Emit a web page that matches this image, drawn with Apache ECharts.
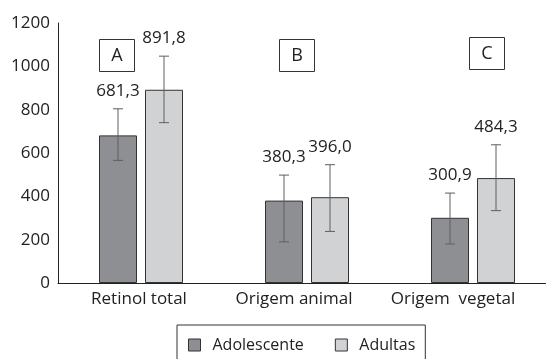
<!DOCTYPE html>
<html>
<head>
<meta charset="utf-8">
<script src="https://cdn.jsdelivr.net/npm/echarts@6/dist/echarts.min.js"></script>
<style>
  html, body { margin: 0; padding: 0; background: #fff; }
  #chart { width: 546px; height: 359px; }
</style>
</head>
<body>
<div id="chart"></div>
<script>
// dados
const categories = ['Retinol total', 'Origem animal', 'Origem  vegetal'];
const adolescente = [681.3, 380.3, 300.9];
const adultas = [891.8, 396.0, 484.3];
// barras de erro [inferior, superior]
const erroAdolescente = [[566, 804], [190, 498], [180, 415]];
const erroAdultas = [[740, 1047], [238, 546], [334, 638]];
const yTicks = [0, 200, 400, 600, 800, 1000, 1200];
const letras = ['A', 'B', 'C'];

const FONT = '"Open Sans", "Noto Sans", sans-serif';
const TXT = '#222';
const BAR_W = 38;
const BAR_GAP = 8;
const offset = (BAR_W + BAR_GAP) / 2;

const chart = echarts.init(document.getElementById('chart'), null, { renderer: 'canvas' });

// deslocamento dos rótulos das categorias (como no original)
const labelShift = [4, 26, 40];

function errorSeries(name, erros, valores, dir) {
  return {
    name: name + '-erro',
    type: 'custom',
    z: 5,
    silent: true,
    data: erros.map((e, i) => [i, e[0], e[1], valores[i]]),
    renderItem: (params, api) => {
      const i = api.value(0);
      const lo = api.coord([i, api.value(1)]);
      const hi = api.coord([i, api.value(2)]);
      const x = lo[0] + dir * offset;
      const cap = 5;
      const txt = api.value(3).toFixed(1).replace('.', ',');
      return {
        type: 'group',
        children: [
          { type: 'line', shape: { x1: x, y1: lo[1], x2: x, y2: hi[1] }, style: { stroke: '#5e5e5e', lineWidth: 1 } },
          { type: 'line', shape: { x1: x - cap, y1: lo[1], x2: x + cap, y2: lo[1] }, style: { stroke: '#5e5e5e', lineWidth: 1 } },
          { type: 'line', shape: { x1: x - cap, y1: hi[1], x2: x + cap, y2: hi[1] }, style: { stroke: '#5e5e5e', lineWidth: 1 } },
          { type: 'text', x: x, y: hi[1] - 18, style: { text: txt, fill: TXT, font: '17px ' + FONT, align: 'center', verticalAlign: 'middle' } }
        ]
      };
    }
  };
}

const option = {
  animation: false,
  backgroundColor: '#fff',
  grid: { left: 58, top: 23, width: 498, height: 260, containLabel: false, outerBoundsMode: 'none' },
  xAxis: {
    type: 'category',
    data: categories,
    axisLine: { lineStyle: { color: TXT, width: 1 } },
    axisTick: { show: false },
    axisLabel: {
      margin: 8,
      color: TXT,
      fontFamily: FONT,
      fontSize: 17,
      interval: 0,
      formatter: (v, i) => '{c' + i + '|' + v + '}',
      rich: {
        c0: { padding: [0, labelShift[0], 0, 0], fontSize: 17, fontFamily: FONT, color: TXT },
        c1: { padding: [0, labelShift[1], 0, 0], fontSize: 17, fontFamily: FONT, color: TXT },
        c2: { padding: [0, labelShift[2], 0, 0], fontSize: 17, fontFamily: FONT, color: TXT }
      }
    }
  },
  yAxis: {
    type: 'value',
    min: yTicks[0],
    max: yTicks[yTicks.length - 1],
    interval: 200,
    axisLine: { show: true, lineStyle: { color: TXT, width: 1 } },
    axisTick: { show: false },
    splitLine: { show: false },
    axisLabel: { color: TXT, fontFamily: FONT, fontSize: 17, margin: 8, formatter: v => String(v) }
  },
  legend: {
    left: 177,
    top: 325,
    padding: [12, 10, 12, 11],
    borderColor: '#333',
    borderWidth: 1,
    itemWidth: 12,
    itemHeight: 12,
    itemGap: 31,
    icon: 'rect',
    textStyle: { color: TXT, fontFamily: FONT, fontSize: 16, padding: [0, 0, 0, 7] },
    data: [
      { name: 'Adolescente', itemStyle: { color: '#8e8f93', borderColor: '#333', borderWidth: 1 } },
      { name: 'Adultas', itemStyle: { color: '#d1d2d4', borderColor: '#333', borderWidth: 1 } }
    ]
  },
  series: [
    {
      name: 'Adolescente',
      type: 'bar',
      data: adolescente,
      barWidth: BAR_W,
      barGap: (BAR_GAP / BAR_W * 100) + '%',
      itemStyle: { color: '#8e8f93', borderColor: '#333', borderWidth: 1 }
    },
    {
      name: 'Adultas',
      type: 'bar',
      data: adultas,
      barWidth: BAR_W,
      itemStyle: { color: '#d1d2d4', borderColor: '#333', borderWidth: 1 }
    },
    errorSeries('Adolescente', erroAdolescente, adolescente, -1),
    errorSeries('Adultas', erroAdultas, adultas, 1)
  ],
  // caixas A, B, C
  graphic: [
    { x: 99, y: 39, w: 35, h: 32 },
    { x: 279, y: 39, w: 35, h: 32 },
    { x: 469, y: 37, w: 35, h: 32 }
  ].map((b, i) => ({
    type: 'group',
    left: b.x,
    top: b.y,
    children: [
      { type: 'rect', shape: { x: 0, y: 0, width: b.w, height: b.h }, style: { fill: '#fff', stroke: '#333', lineWidth: 1 } },
      { type: 'text', x: b.w / 2, y: b.h / 2, style: { text: letras[i], fill: TXT, font: '18px ' + FONT, align: 'center', verticalAlign: 'middle' } }
    ]
  }))
};

chart.setOption(option);
</script>
</body>
</html>
